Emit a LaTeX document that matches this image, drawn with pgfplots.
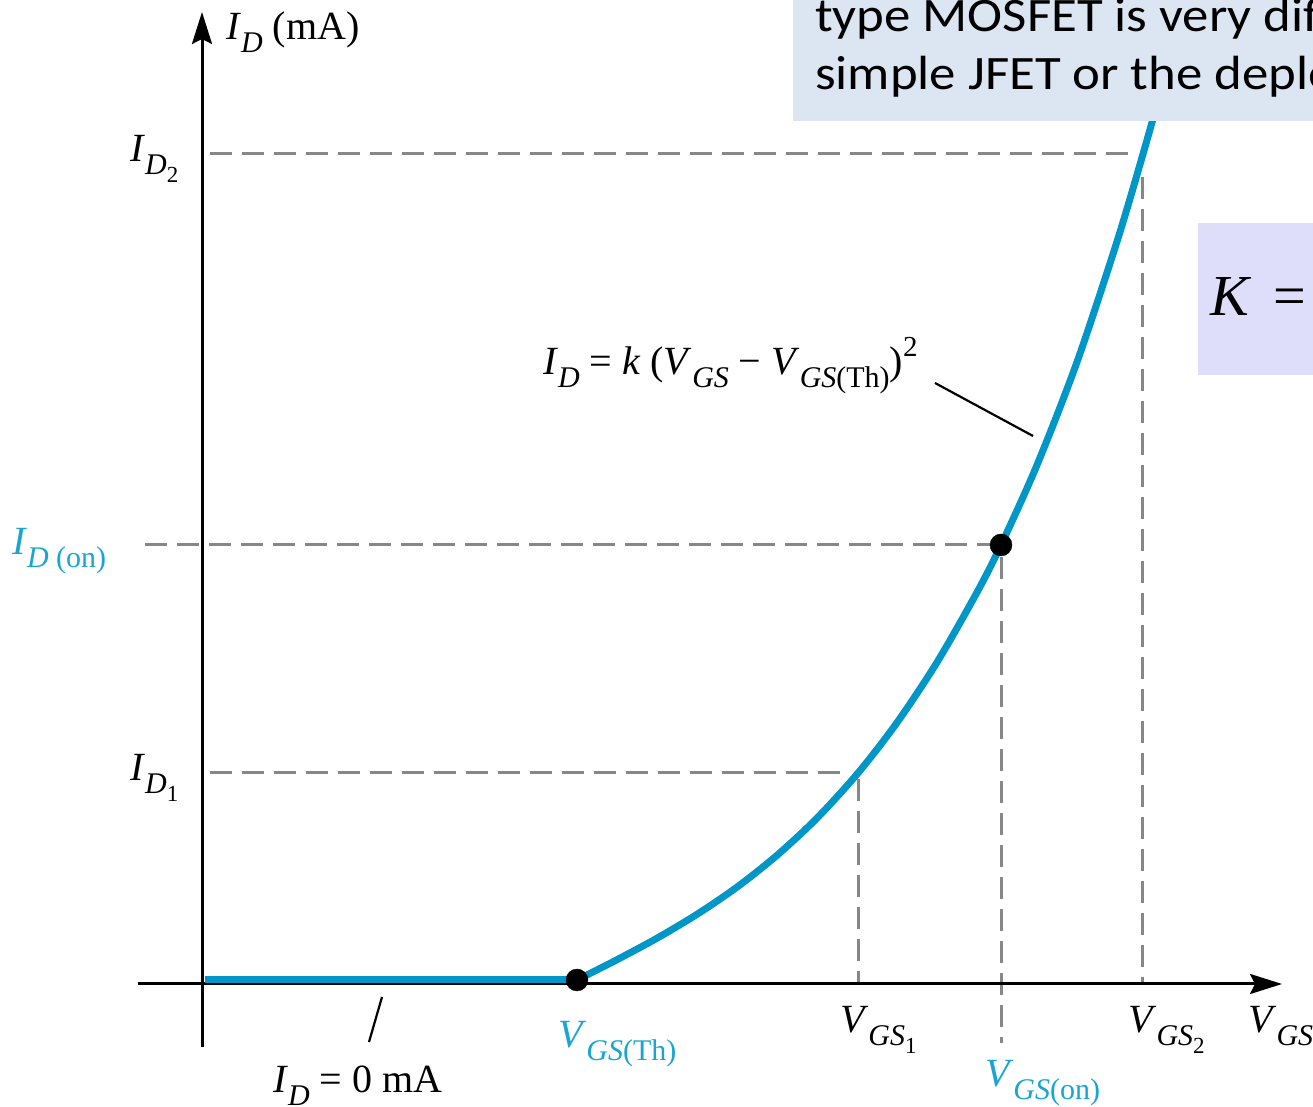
\documentclass[border=0pt]{standalone}
\usepackage{fontspec}
\usepackage{pgfplots}
\pgfplotsset{compat=1.18}
\usetikzlibrary{arrows.meta}
\setmainfont{Liberation Serif}
\newfontfamily\calibri{Carlito}
\definecolor{curveblue}{RGB}{0,150,200}
\definecolor{labblue}{RGB}{25,165,210}
\definecolor{dashgray}{RGB}{135,135,135}
\definecolor{boxblue}{RGB}{220,230,242}
\definecolor{boxlav}{RGB}{222,222,250}
\newcommand{\lab}{\fontsize{40}{46}\selectfont}
\newcommand{\sbs}[1]{\raisebox{-0.32em}{\fontsize{30}{32}\selectfont #1}}
\newcommand{\ssbs}[1]{\raisebox{-0.25em}{\fontsize{23}{25}\selectfont #1}}
\newcommand{\sps}[1]{\raisebox{0.45em}{\fontsize{29}{31}\selectfont #1}}
\newcommand{\boxtext}[1]{\scalebox{1.10}[1]{\calibri\fontsize{48}{58}\selectfont #1}}
\begin{document}
\begin{tikzpicture}
\begin{axis}[name=ax, at={(0,0)}, anchor=south west, scale only axis,
  width=1313pt, height=1107pt, xmin=0, xmax=1313, ymin=0, ymax=1107,
  hide axis, clip=false]
% dashed guide lines
\addplot[dashgray, line width=3pt, dash pattern=on 22pt off 10pt] coordinates {(210,953) (1132,953)};
\addplot[dashgray, line width=3pt, dash pattern=on 22pt off 10pt] coordinates {(1142,930) (1142,123)};
\addplot[dashgray, line width=3pt, dash pattern=on 22pt off 10pt] coordinates {(145,562) (990,562)};
\addplot[dashgray, line width=3pt, dash pattern=on 22pt off 10pt] coordinates {(1001,550) (1001,64)};
\addplot[dashgray, line width=3pt, dash pattern=on 22pt off 10pt] coordinates {(210,334) (850,334)};
\addplot[dashgray, line width=3pt, dash pattern=on 22pt off 10pt] coordinates {(858,328) (858,123)};
% axes
\draw[line width=3pt, -{Stealth[length=32pt,width=20pt,inset=5pt]}] (axis cs:138,123) -- (axis cs:1282,123);
\draw[line width=3pt, -{Stealth[length=32pt,width=20pt,inset=5pt]}] (axis cs:202,60) -- (axis cs:202,1095);
% transfer curve
\addplot[curveblue, line width=7pt] coordinates {(205,127) (577,127)};
\addplot[curveblue, line width=7pt, smooth] coordinates {
 (577,127) (617,147.3) (657,168.8) (697,192.7) (737,219.9) (777,251.7)
 (817,288.9) (858,334) (897,384.4) (937,444.7) (977,514.7) (1001,562)
 (1037,642) (1077,745) (1117,865.5) (1143,953) (1157,1003) (1168,1045)};
\addplot[only marks, mark=*, mark size=11pt, black] coordinates {(577,127) (1001,562)};
% pointers
\draw[line width=2.2pt] (axis cs:935,724) -- (axis cs:1033,671);
\draw[line width=2.2pt] (axis cs:382,110) -- (axis cs:369,65);
% labels
\node[anchor=base west, inner sep=0, font=\lab] at (axis cs:226,1067) {\textit{I}\sbs{\textit{D}} (mA)};
\node[anchor=base west, inner sep=0, font=\lab] at (axis cs:130,945) {\textit{I}\sbs{\textit{D}\ssbs{2}}};
\node[anchor=base west, inner sep=0, font=\lab, text=labblue] at (axis cs:12,552) {\textit{I}\sbs{\textit{D} (on)}};
\node[anchor=base west, inner sep=0, font=\lab] at (axis cs:130,326) {\textit{I}\sbs{\textit{D}\ssbs{1}}};
\node[anchor=base west, inner sep=0, font=\lab] at (axis cs:543,732) {\textit{I}\sbs{\textit{D}} = \textit{k} (\textit{V}\sbs{\textit{GS}} − \textit{V}\sbs{\textit{GS}(Th)})\sps{2}};
\node[anchor=base west, inner sep=0, font=\lab, text=labblue] at (axis cs:558,59) {\textit{V}\sbs{\textit{GS}(Th)}};
\node[anchor=base west, inner sep=0, font=\lab] at (axis cs:840,74) {\textit{V}\sbs{\textit{GS}\ssbs{1}}};
\node[anchor=base west, inner sep=0, font=\lab, text=labblue] at (axis cs:985,20) {\textit{V}\sbs{\textit{GS}(on)}};
\node[anchor=base west, inner sep=0, font=\lab] at (axis cs:1128,74) {\textit{V}\sbs{\textit{GS}\ssbs{2}}};
\node[anchor=base west, inner sep=0, font=\lab] at (axis cs:1248,74) {\textit{V}\sbs{\textit{GS}}};
\node[anchor=base west, inner sep=0, font=\lab] at (axis cs:273,14) {\textit{I}\sbs{\textit{D}} = 0 mA};
\end{axis}
\pgfresetboundingbox
\useasboundingbox (0pt,0pt) rectangle (1313pt,1107pt);
% slide overlays
\fill[boxblue] (793pt,986pt) rectangle (1450pt,1200pt);
\node[anchor=base west, inner sep=0] at (815pt,1075pt) {\boxtext{type MOSFET is very different}};
\node[anchor=base west, inner sep=0] at (815pt,1017pt) {\boxtext{simple JFET or the depletion}};
\fill[boxlav] (1198pt,732pt) rectangle (1450pt,884pt);
\node[anchor=base west, inner sep=0, font=\fontsize{58}{60}\selectfont] at (1210pt,791pt) {\textit{K}\hspace{22pt}=};
\end{tikzpicture}
\end{document}
